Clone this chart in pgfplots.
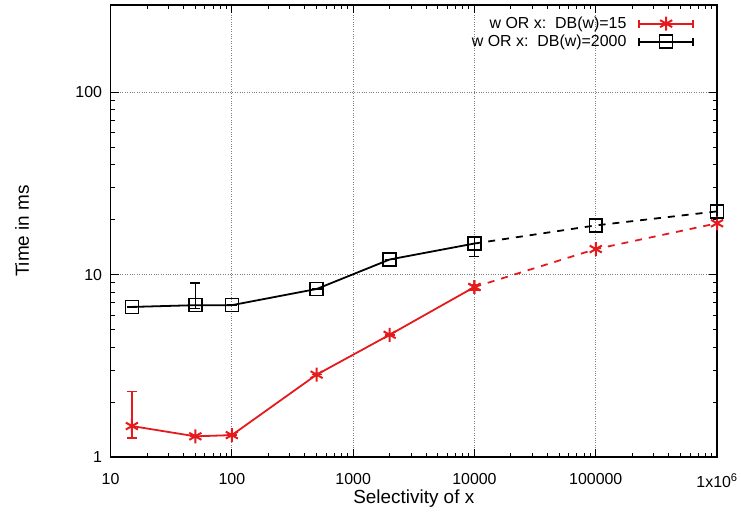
\documentclass[border=0pt]{standalone}
\usepackage{fontspec}
\setmainfont{Liberation Sans}
\usepackage{pgfplots}
\pgfplotsset{compat=1.18}
\definecolor{gpred}{RGB}{228,26,28}

\begin{document}
\begin{tikzpicture}
\begin{axis}[
  xmode=log, ymode=log,
  scale only axis,
  width=609pt, height=454pt,
  xmin=10, xmax=1e6, ymin=1, ymax=300,
  font=\fontsize{16}{19}\selectfont,
  xtick={10,100,1000,10000,100000,1000000},
  xticklabels={10,100,1000,10000,100000,1x10\textsuperscript{6}},
  ytick={1,10,100}, yticklabels={1,10,100},
  xticklabel style={yshift=-13pt},
  yticklabel style={xshift=-5pt},
  xlabel={Selectivity of x}, ylabel={Time in ms},
  xlabel style={font=\fontsize{19}{22}\selectfont,
    at={(axis description cs:0.5,0)}, anchor=center, yshift=-42pt},
  ylabel style={font=\fontsize{19}{22}\selectfont,
    at={(axis description cs:-0.146,0.5)}, anchor=center},
  grid=major, major grid style={dotted, gray, line width=0.8pt},
  axis line style={line width=1.5pt},
  major tick length=8pt, minor tick length=4pt,
  every tick/.style={black, line width=1pt},
  legend plot pos=right,
  legend cell align=right,
  legend style={at={(rel axis cs:1,1)}, anchor=north east, xshift=-23pt, yshift=-10pt,
    draw=none, fill=none, inner sep=0pt, row sep=1pt, column sep=10pt,
    nodes={inner sep=2pt}},
  legend image code/.code={
    \draw[#1, mark=none] (0pt,0pt) -- (54pt,0pt);
    \draw[#1, mark=none, solid] (0pt,-4pt) -- (0pt,4pt) (54pt,-4pt) -- (54pt,4pt);
    \draw[#1, only marks] plot coordinates {(27pt,0pt)};
  },
  error bars/error bar style={line width=1.5pt, solid},
  error bars/error mark options={rotate=90, mark size=5pt, line width=1.5pt},
]
% w OR x, DB(w)=15
\addplot[gpred, line width=1.8pt, mark=asterisk, mark size=7pt,
  mark options={line width=2pt},
  error bars/.cd, y dir=both, y explicit]
  coordinates {
  (15,1.48) += (0,0.81) -= (0,0.21)
  (50,1.30) += (0,0) -= (0,0)
  (100,1.32) += (0,0) -= (0,0)
  (500,2.83) += (0,0) -= (0,0)
  (2000,4.68) += (0,0) -= (0,0)
  (10000,8.55) += (0,0.3) -= (0,0.3)
  };
\addlegendentry{w OR x:\ \ DB(w)=15}
% w OR x, DB(w)=2000
\addplot[black, line width=1.8pt, mark=square, mark size=6.5pt,
  mark options={line width=1.5pt},
  error bars/.cd, y dir=both, y explicit]
  coordinates {
  (15,6.65) += (0,0) -= (0,0)
  (50,6.8) += (0,2.2) -= (0,0.3)
  (100,6.8) += (0,0) -= (0,0)
  (500,8.34) += (0,0) -= (0,0)
  (2000,12.1) += (0,0) -= (0,0)
  (10000,14.8) += (0,1.2) -= (0,2.2)
  };
\addlegendentry{w OR x:\ \ DB(w)=2000}
% extrapolated parts
\addplot[gpred, line width=1.8pt, dash pattern=on 7pt off 7pt, mark=asterisk,
  mark size=7pt, mark options={solid, line width=2pt}, forget plot]
  coordinates {(10000,8.55) (100000,13.8) (1000000,19.1)};
\addplot[black, line width=1.8pt, dash pattern=on 7pt off 7pt, mark=square,
  mark size=6.5pt, mark options={solid, line width=1.5pt}, forget plot]
  coordinates {(10000,14.8) (100000,18.6) (1000000,22.2)};
\end{axis}
\path ([xshift=-111pt,yshift=-57pt]current axis.south west)
  rectangle ([xshift=21pt,yshift=5pt]current axis.north east);
\end{tikzpicture}
\end{document}
